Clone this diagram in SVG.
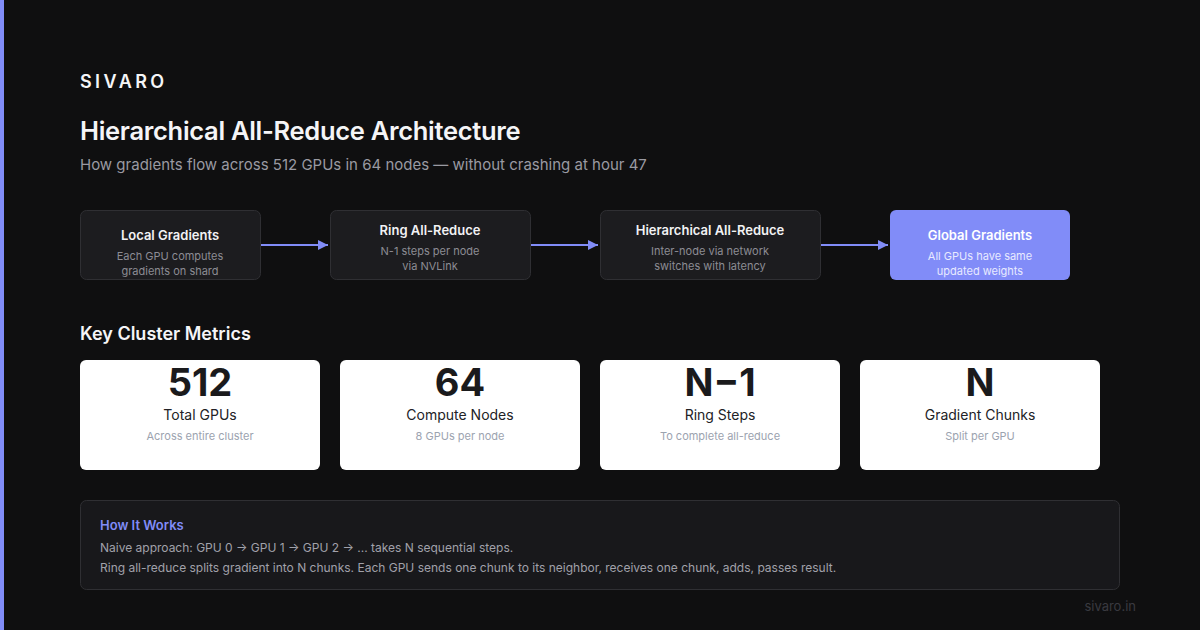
<svg xmlns="http://www.w3.org/2000/svg" width="1200" height="630" viewBox="0 0 1200 630">
<defs>
<marker id="arr" viewBox="0 0 10 10" refX="10" refY="5" markerWidth="10" markerHeight="10" markerUnits="userSpaceOnUse" orient="auto"><path d="M0,0 L10,5 L0,10 z" fill="#818cf8"/></marker>
<style>
text{font-family:Inter,"Liberation Sans",sans-serif}
.box{fill:#1c1c1f;stroke:#2f2f33;stroke-width:1}
.bt{fill:#f2f2f4;font-size:13px;font-weight:600;text-anchor:middle}
.bd{fill:#8c8c94;font-size:11px;text-anchor:middle}
.card{fill:#ffffff}
.big{fill:#1a1a1c;font-size:38px;font-weight:700;text-anchor:middle}
.cl{fill:#222226;font-size:14px;text-anchor:middle}
.cd{fill:#9ca3af;font-size:11px;text-anchor:middle}
.conn{stroke:#818cf8;stroke-width:2;fill:none;marker-end:url(#arr)}
.p{fill:#a1a1aa;font-size:12px}
</style>
</defs>
<rect width="1200" height="630" fill="#0f0f10"/>
<rect x="0" y="0" width="4" height="630" fill="#818cf8"/>
<text x="80" y="88" fill="#f5f5f7" font-size="18" font-weight="600" letter-spacing="3.4">SIVARO</text>
<text x="80" y="140" fill="#f5f5f7" font-size="25.5" font-weight="600" letter-spacing="-0.3">Hierarchical All-Reduce Architecture</text>
<text x="80" y="170" fill="#9a9aa2" font-size="15">How gradients flow across 512 GPUs in 64 nodes — without crashing at hour 47</text>

<g id="connectors">
<line class="conn" x1="260" y1="245" x2="328" y2="245"/>
<line class="conn" x1="530" y1="245" x2="598" y2="245"/>
<line class="conn" x1="820" y1="245" x2="888" y2="245"/>
</g>

<g id="node-local">
<rect class="box" x="80.5" y="210.5" width="180" height="69" rx="6"/>
<text class="bt" x="170" y="240">Local Gradients</text>
<text class="bd" x="170" y="260">Each GPU computes</text>
<text class="bd" x="170" y="275">gradients on shard</text>
</g>
<g id="node-ring">
<rect class="box" x="330.5" y="210.5" width="200" height="69" rx="6"/>
<text class="bt" x="430" y="235">Ring All-Reduce</text>
<text class="bd" x="430" y="255">N-1 steps per node</text>
<text class="bd" x="430" y="270">via NVLink</text>
</g>
<g id="node-hier">
<rect class="box" x="600.5" y="210.5" width="220" height="69" rx="6"/>
<text class="bt" x="710" y="235">Hierarchical All-Reduce</text>
<text class="bd" x="710" y="255">Inter-node via network</text>
<text class="bd" x="710" y="270">switches with latency</text>
</g>
<g id="node-global">
<rect x="890" y="210" width="180" height="70" rx="6" fill="#818cf8"/>
<text class="bt" x="980" y="240" style="fill:#ffffff">Global Gradients</text>
<text class="bd" x="980" y="260" style="fill:#e8eaff">All GPUs have same</text>
<text class="bd" x="980" y="275" style="fill:#e8eaff">updated weights</text>
</g>

<text x="80" y="340" fill="#f5f5f7" font-size="18" font-weight="600">Key Cluster Metrics</text>

<g id="metric-gpus">
<rect class="card" x="80" y="360" width="240" height="110" rx="6"/>
<text class="big" x="200" y="396">512</text>
<text class="cl" x="200" y="420">Total GPUs</text>
<text class="cd" x="200" y="440">Across entire cluster</text>
</g>
<g id="metric-nodes">
<rect class="card" x="340" y="360" width="240" height="110" rx="6"/>
<text class="big" x="460" y="396">64</text>
<text class="cl" x="460" y="420">Compute Nodes</text>
<text class="cd" x="460" y="440">8 GPUs per node</text>
</g>
<g id="metric-steps">
<rect class="card" x="600" y="360" width="240" height="110" rx="6"/>
<text class="big" x="720" y="396">N−1</text>
<text class="cl" x="720" y="420">Ring Steps</text>
<text class="cd" x="720" y="440">To complete all-reduce</text>
</g>
<g id="metric-chunks">
<rect class="card" x="860" y="360" width="240" height="110" rx="6"/>
<text class="big" x="980" y="396">N</text>
<text class="cl" x="980" y="420">Gradient Chunks</text>
<text class="cd" x="980" y="440">Split per GPU</text>
</g>

<g id="how-it-works">
<rect x="80.5" y="500.5" width="1039" height="89" rx="6" fill="#18181b" stroke="#2f2f33"/>
<text x="100" y="530" fill="#818cf8" font-size="13" font-weight="600">How It Works</text>
<text class="p" x="100" y="552">Naive approach: GPU 0 → GPU 1 → GPU 2 → ... takes N sequential steps.</text>
<text class="p" x="100" y="572">Ring all-reduce splits gradient into N chunks. Each GPU sends one chunk to its neighbor, receives one chunk, adds, passes result.</text>
</g>

<text x="1136" y="611" fill="#3a3a40" font-size="13" text-anchor="end">sivaro.in</text>
</svg>
